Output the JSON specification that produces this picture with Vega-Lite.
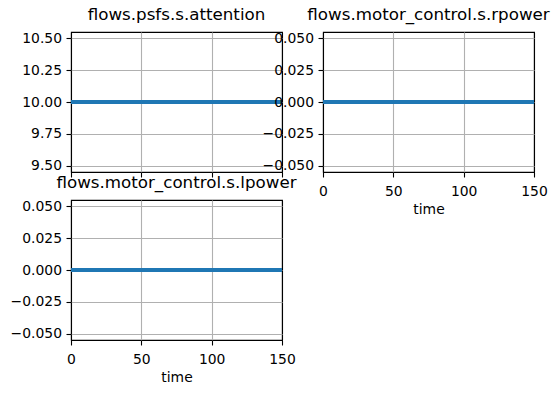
{
  "$schema": "https://vega.github.io/schema/vega-lite/v6.json",
  "padding": {"left": 9, "top": 6, "right": 5, "bottom": 5},
  "background": "white",
  "datasets": {
    "attention": [
      {"time": 0, "value": 10},
      {"time": 50, "value": 10},
      {"time": 100, "value": 10},
      {"time": 150, "value": 10}
    ],
    "rpower": [
      {"time": 0, "value": 0},
      {"time": 50, "value": 0},
      {"time": 100, "value": 0},
      {"time": 150, "value": 0}
    ],
    "lpower": [
      {"time": 0, "value": 0},
      {"time": 50, "value": 0},
      {"time": 100, "value": 0},
      {"time": 150, "value": 0}
    ]
  },
  "columns": 2,
  "bounds": "flush",
  "spacing": {"row": 28, "column": 41},
  "config": {
    "view": {"stroke": "black", "strokeWidth": 1.1},
    "axis": {
      "labelFont": "DejaVu Sans",
      "labelFontSize": 13.9,
      "labelColor": "black",
      "tickColor": "black",
      "tickSize": 5,
      "tickWidth": 1.1,
      "labelPadding": 4.5,
      "domain": false,
      "grid": true,
      "gridColor": "#b0b0b0",
      "gridWidth": 1.1,
      "gridOpacity": 1,
      "titleFont": "DejaVu Sans",
      "titleFontSize": 13.9,
      "titleFontWeight": "normal",
      "titleColor": "black",
      "titlePadding": 5,
      "labelFlush": false,
      "labelOverlap": false
    },
    "axisX": {"labelPadding": 7},
    "title": {
      "font": "DejaVu Sans",
      "fontSize": 16.7,
      "fontWeight": "normal",
      "color": "black",
      "offset": 8,
      "baseline": "alphabetic",
      "anchor": "middle"
    },
    "line": {"color": "#1f77b4", "strokeWidth": 4, "clip": true}
  },
  "concat": [
    {
      "title": "flows.psfs.s.attention",
      "width": 211,
      "height": 140,
      "data": {"name": "attention"},
      "mark": {"type": "line", "clip": true},
      "encoding": {
        "x": {"field": "time", "type": "quantitative", "scale": {"domain": [0, 150], "nice": false, "zero": false}, "axis": {"values": [0, 50, 100, 150], "labels": false, "title": null, "gridColor": {"condition": {"test": "datum.value == 0 || datum.value == 150", "value": "black"}, "value": "#b0b0b0"}}},
        "y": {"field": "value", "type": "quantitative", "scale": {"domain": [9.45, 10.55], "nice": false, "zero": false}, "axis": {"values": [9.5, 9.75, 10, 10.25, 10.5], "format": ".2f", "title": null}}
      }
    },
    {
      "title": "flows.motor_control.s.rpower",
      "width": 211,
      "height": 140,
      "data": {"name": "rpower"},
      "mark": {"type": "line", "clip": true},
      "encoding": {
        "x": {"field": "time", "type": "quantitative", "scale": {"domain": [0, 150], "nice": false, "zero": false}, "axis": {"values": [0, 50, 100, 150], "title": "time", "gridColor": {"condition": {"test": "datum.value == 0 || datum.value == 150", "value": "black"}, "value": "#b0b0b0"}}},
        "y": {"field": "value", "type": "quantitative", "scale": {"domain": [-0.055, 0.055], "nice": false, "zero": false}, "axis": {"values": [-0.05, -0.025, 0, 0.025, 0.05], "labelExpr": "replace(format(datum.value, '.3f'), '-', '\u2212')", "title": null}}
      }
    },
    {
      "title": "flows.motor_control.s.lpower",
      "width": 211,
      "height": 140,
      "data": {"name": "lpower"},
      "mark": {"type": "line", "clip": true},
      "encoding": {
        "x": {"field": "time", "type": "quantitative", "scale": {"domain": [0, 150], "nice": false, "zero": false}, "axis": {"values": [0, 50, 100, 150], "title": "time", "gridColor": {"condition": {"test": "datum.value == 0 || datum.value == 150", "value": "black"}, "value": "#b0b0b0"}}},
        "y": {"field": "value", "type": "quantitative", "scale": {"domain": [-0.055, 0.055], "nice": false, "zero": false}, "axis": {"values": [-0.05, -0.025, 0, 0.025, 0.05], "labelExpr": "replace(format(datum.value, '.3f'), '-', '\u2212')", "title": null}}
      }
    }
  ]
}
